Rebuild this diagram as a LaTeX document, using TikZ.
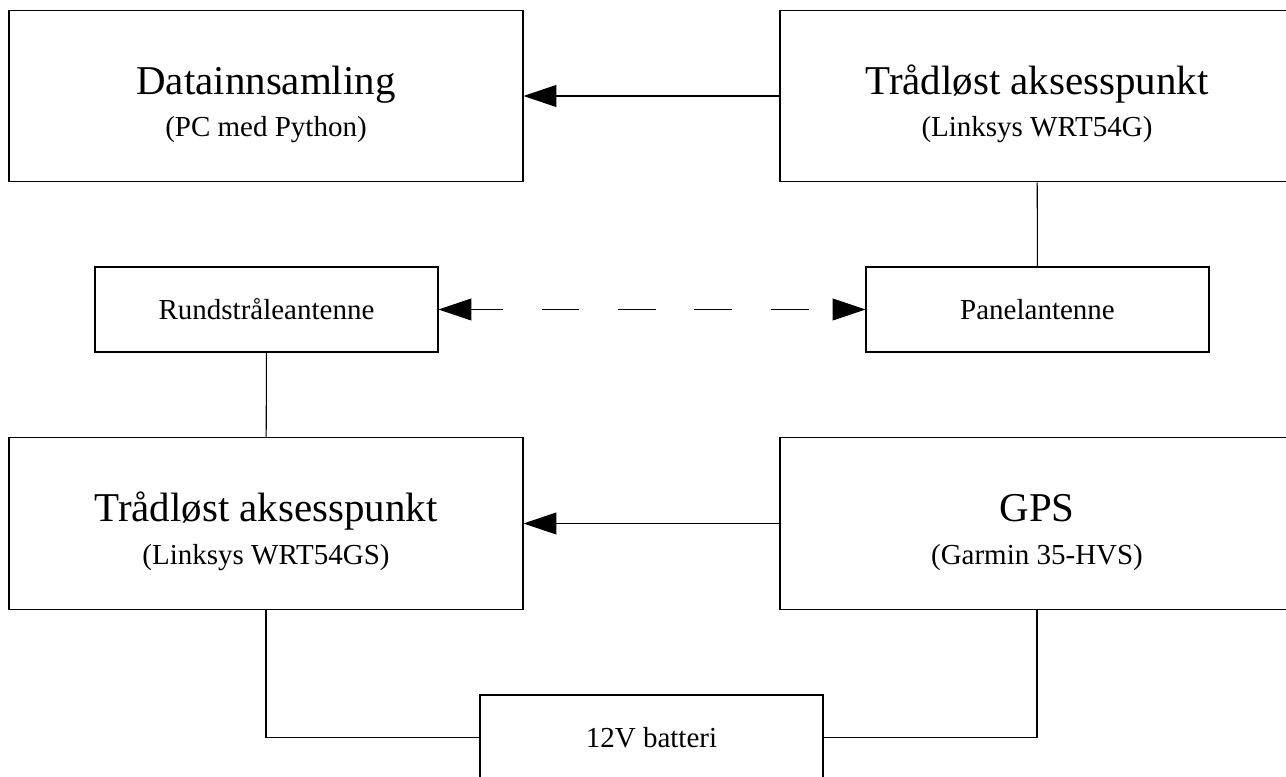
\documentclass[tikz,border=0pt]{standalone}
\usepackage{fontspec}
\setmainfont{Liberation Serif}
\usetikzlibrary{arrows.meta,positioning}

\newcommand{\modell}[1]{{\fontsize{16.5}{19}\selectfont #1}}

\begin{document}
\begin{tikzpicture}[
    bigbox/.style={rectangle, draw, line width=0.6pt, minimum width=10.28cm, minimum height=3.43cm, align=center, font=\fontsize{23.3}{24.4}\selectfont, text height=1.77cm, text depth=0.13cm},
    smallbox/.style={rectangle, draw, line width=0.6pt, minimum width=6.86cm, minimum height=1.70cm, font=\fontsize{16.5}{19}\selectfont},
    wire/.style={line width=0.6pt},
    pointer/.style={wire, -{Triangle[length=18.7pt, width=12.5pt]}},
    radio/.style={wire, {Triangle[length=18.7pt, width=12.5pt]}-{Triangle[length=18.7pt, width=12.5pt]}, dash pattern=on 21.5pt off 22pt, dash phase=3.4pt}
]

\useasboundingbox (0,0) rectangle (25.72,15.52);
\clip (0,0) rectangle (25.72,15.52);

% Top row
\node[bigbox] (data) at (5.32,13.60) {Datainnsamling\\\modell{(PC med Python)}};
\node[bigbox] (apTop) at (20.74,13.60) {Trådløst aksesspunkt\\\modell{(Linksys WRT54G)}};

% Antennas
\node[smallbox] (rund) at (5.33,9.33) {Rundstråleantenne};
\node[smallbox] (panel) at (20.75,9.33) {Panelantenne};

% Lower row
\node[bigbox] (apBottom) at (5.32,5.05) {Trådløst aksesspunkt\\\modell{(Linksys WRT54GS)}};
\node[bigbox] (gps) at (20.74,5.05) {GPS\\\modell{(Garmin 35-HVS)}};

% Battery
\node[smallbox] (battery) at (13.03,0.77) {12V batteri};

% Connections
\draw[pointer] (apTop) -- (data);
\draw[wire] (apTop) -- (panel);
\draw[radio] (rund) -- (panel);
\draw[wire] (rund) -- (apBottom);
\draw[pointer] (gps) -- (apBottom);
\draw[wire] (apBottom.south) |- (battery.west);
\draw[wire] (gps.south) |- (battery.east);

\end{tikzpicture}
\end{document}
